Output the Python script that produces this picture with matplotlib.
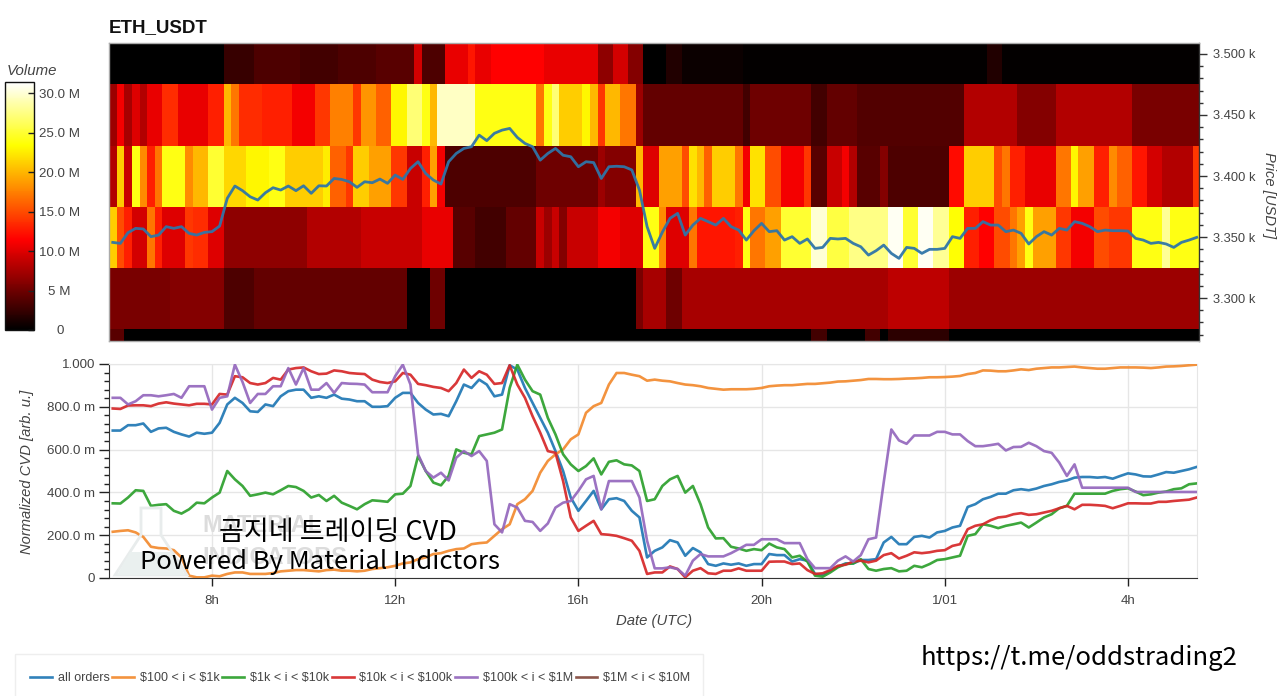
import numpy as np
import matplotlib
matplotlib.use("Agg")
import matplotlib.pyplot as plt
from matplotlib.colors import LinearSegmentedColormap
from matplotlib.patches import Polygon, Rectangle
from matplotlib.transforms import Affine2D

plt.rcParams['font.family'] = ['Liberation Sans', 'Noto Sans CJK KR', 'DejaVu Sans']

W, H = 1280, 696

# ---------- data ----------
price_edges = [3225, 3275, 3325, 3375, 3425, 3475, 3525]
vol_bottom = [4]*2 + [0.1]*90 + [3]*2 + [0.1]*5 + [3]*2 + [0.1] + [2]*8 + [0.1]*33
vol_3300 = ([5.5]*8 + [6]*7 + [3.5]*4 + [4.5]*20 + [0.1]*3 + [5]*2 + [0.1]*25 + [5.5] + [7.5]*3 + [5]*2
            + [7.5]*27 + [8.5]*8 + [7]*33)
vol_3350 = ([21, 15, 13] + [9.5]*2 + [17, 13] + [10]*3 + [14] + [13.5]*2 + [10]*2 + [6.5]*11 + [8]*7 + [9]*8
            + [10.5]*4 + [4]*3 + [3]*4 + [4.5]*4 + [9, 7, 9, 6] + [9]*4 + [11]*3 + [10]*3 + [24]*2 + [18] + [10]*3
            + [17] + [12.5]*5 + [13] + [24] + [17]*2 + [19]*2 + [25]*4 + [30]*2 + [25.5]*3 + [27.5]*5 + [31]*2
            + [25]*2 + [31]*2 + [28]*2 + [23.5]*2 + [13]*2 + [11.5]*2 + [15]*2 + [17] + [19] + [24] + [19]*3
            + [14]*2 + [11]*3 + [15]*2 + [14]*3 + [24]*4 + [28] + [24]*4)
vol_3400 = ([8, 21, 9, 24, 18, 13, 17] + [24]*3 + [18] + [20]*2 + [25]*2 + [21.5]*3 + [23]*3 + [24]*2 + [21]*5
            + [22.5] + [16]*2 + [14] + [21]*2 + [19]*3 + [14]*2 + [9]*2 + [13] + [19] + [11] + [3.5]*12 + [5]*8
            + [7] + [6]*4 + [20] + [10]*2 + [19]*3 + [15] + [22] + [20] + [16] + [21]*3 + [17] + [11] + [22]*2
            + [15]*2 + [11]*3 + [14] + [4]*2 + [9]*2 + [11] + [8] + [4]*3 + [6] + [3.5]*8 + [12]*2 + [21]*4 + [15]
            + [17] + [13]*2 + [10.5]*4 + [17]*2 + [23] + [19]*2 + [13]*2 + [18] + [16]*2 + [12.5]*2 + [9.5]*2
            + [8]*4 + [14])
vol_3450 = ([7, 11, 7.5, 10, 8] + [10.5]*2 + [13.5]*2 + [10.5]*4 + [13]*2 + [20] + [17] + [13.5]*3 + [13]*4
            + [11]*3 + [14]*2 + [17.5]*3 + [14] + [18.5]*2 + [16]*2 + [23]*2 + [27]*2 + [24] + [20] + [29.5]*5
            + [24]*8 + [17] + [24] + [27] + [21]*3 + [23] + [20] + [14] + [20]*2 + [17]*2 + [7] + [4.5]*13 + [3]
            + [5]*8 + [3]*2 + [4.5]*4 + [3.8]*14 + [8]*7 + [6]*5 + [8]*10 + [5.5]*9)
vol_3500 = ([0.1]*15 + [2.5]*4 + [3.5]*6 + [3]*5 + [3.5]*5 + [4]*5 + [9.5] + [3.5]*3 + [10.5]*3 + [12.5]
            + [10.5]*2 + [11.5]*7 + [10.5]*7 + [6.5]*2 + [9.5]*2 + [6]*2 + [0.1]*3 + [1.5]*2 + [0.5]*8 + [0.2]*32
            + [1.5]*2 + [0.2]*26)

price = [3345.6, 3344.8, 3353.6, 3357.1, 3356.6, 3350.3, 3351.6, 3358.5, 3357.1, 3358.5, 3353, 3351.6, 3353.8,
         3354.4, 3359, 3381.7, 3391.8, 3388, 3383, 3380.3, 3386.3, 3390.4, 3388.5, 3391.8, 3388, 3392, 3385.8,
         3392, 3391.8, 3398, 3397.2, 3395.3, 3390.7, 3395.3, 3394.5, 3397.5, 3394, 3400.8, 3397.2, 3406.2,
         3411.7, 3402, 3396.7, 3393.4, 3411.7, 3418.5, 3422.6, 3424, 3433.5, 3429, 3435, 3437.6, 3439, 3431.6,
         3426.7, 3424, 3413, 3418.5, 3422.6, 3417, 3415.8, 3407.6, 3411.7, 3411, 3398, 3407.6, 3408, 3407.6,
         3405, 3388.5, 3358.5, 3340.7, 3354, 3365.3, 3369.4, 3351.6, 3359.8, 3365.3, 3362.6, 3359.8, 3365.3,
         3358.5, 3355.7, 3347.5, 3355.2, 3361.2, 3354.4, 3355.2, 3347.5, 3350.3, 3344.8, 3348.4, 3340.7,
         3341.5, 3348.9, 3348.4, 3348.9, 3344.8, 3342, 3335.2, 3338.8, 3343.4, 3336.6, 3332.5, 3341.5, 3340.7,
         3336.6, 3339.9, 3339.9, 3340.7, 3350.3, 3348.9, 3357.1, 3357.1, 3362.6, 3359.8, 3359.8, 3354.4,
         3355.7, 3353, 3344.3, 3350.3, 3354.4, 3351.6, 3357.1, 3355.7, 3362.6, 3361.2, 3358.5, 3354.4, 3355.7,
         3355.2, 3355.2, 3354.9, 3348.9, 3347.5, 3344.8, 3345.6, 3344.3, 3341.5, 3345.6, 3347.5, 3349.7]

cvd_all = [.689, .689, .714, .714, .722, .683, .699, .702, .683, .671, .661, .679, .674, .679, .725, .811, .842,
           .818, .779, .776, .811, .803, .849, .873, .880, .880, .842, .849, .842, .857, .838, .834, .826, .826,
           .800, .800, .803, .842, .865, .865, .818, .787, .764, .767, .756, .826, .904, .888, .927, .904, .849,
           .857, .994, .974, .888, .818, .748, .679, .593, .500, .376, .314, .360, .407, .321, .368, .373, .360,
           .314, .283, .096, .127,
           .143, .177, .166, .104, .140, .120, .065, .057, .068, .062, .068, .057, .065, .065, .112, .107, .107,
           .077, .088, .081, .019, .015, .034, .053, .068, .068, .084, .084, .088, .166, .192, .158, .158, .192,
           .197, .189, .213, .220, .236, .244, .332, .345, .368, .379, .394, .394, .410, .415, .410, .418, .430,
           .438, .449, .456, .469, .472, .472, .469, .472, .464, .477, .489, .484, .475, .474, .484, .495, .492,
           .500, .508, .519]
cvd_100_1k = [.216, .220, .223, .213, .192, .146, .140, .138, .130, .096, .011, .003, .003, .011, .008, .019, .026,
              .026, .019, .019, .019, .023, .031, .034, .037, .037, .034, .031, .037, .039, .034, .034, .031, .034,
              .042, .046, .050, .057, .068, .073, .088, .096, .112, .116, .127, .135, .138, .158, .163, .166, .197,
              .228, .251, .345, .368, .407, .492, .547, .578, .601, .648, .671, .772, .803, .818, .904, .958, .958,
              .950, .943, .922, .927,
              .922, .919, .911, .904, .901, .896, .888, .884, .880, .882, .882, .882, .884, .888, .896, .899, .901,
              .901, .904, .907, .907, .910, .913, .918, .919, .922, .925, .930, .930, .929, .929, .930, .932, .933,
              .935, .938, .938, .939, .941, .944, .953, .958, .970, .969, .966, .966, .970, .975, .972, .978, .981,
              .984, .984, .986, .988, .984, .981, .978, .978, .981, .984, .984, .984, .983, .981, .984, .988, .989,
              .991, .994, .997]
cvd_1k_10k = [.349, .348, .376, .410, .407, .337, .342, .345, .314, .301, .321, .352, .349, .376, .399, .500, .461,
              .430, .384, .391, .399, .391, .410, .430, .425, .407, .376, .388, .360, .384, .352, .337, .321, .345,
              .363, .360, .356, .391, .394, .430, .570, .500, .446, .433, .477, .601, .585, .578, .663, .671, .679,
              .694, .888, .997, .927, .873, .857, .748, .671, .578, .531, .500, .523, .559, .484, .543, .550, .531,
              .526, .500, .360, .368,
              .430, .461, .477, .399, .430, .345, .236, .185, .186, .146, .138, .127, .135, .130, .161, .143, .135,
              .096, .104, .077, .011, .006, .026, .050, .065, .068, .088, .042, .034, .042, .046, .031, .034, .057,
              .050, .065, .084, .088, .096, .104, .197, .205, .251, .244, .233, .244, .251, .259, .236, .259, .283,
              .298, .326, .337, .394, .394, .394, .394, .394, .407, .415, .419, .404, .387, .391, .399, .404, .415,
              .419, .438, .442]
cvd_10k_100k = [.792, .790, .806, .807, .807, .803, .815, .821, .815, .811, .807, .814, .814, .811, .860, .857, .943,
                .938, .911, .904, .911, .935, .927, .974, .981, .984, .966, .953, .955, .970, .966, .958, .955, .953,
                .927, .916, .911, .919, .958, .950, .907, .901, .893, .888, .873, .911, .974, .935, .966, .950, .907,
                .911, .994, .904, .842, .756, .679, .593, .585, .453, .283, .220, .244, .267, .205, .202, .197, .186,
                .174, .127, .019, .026,
                .026, .054, .042, .003, .034, .046, .022, .019, .034, .034, .045, .034, .034, .034, .076, .077, .077,
                .065, .068, .037, .019, .022, .037, .057, .062, .077, .081, .073, .081, .107, .116, .091, .104, .120,
                .116, .120, .127, .130, .150, .158, .228, .244, .251, .270, .283, .287, .298, .303, .295, .298, .306,
                .314, .326, .337, .321, .342, .342, .340, .337, .326, .337, .349, .349, .348, .348, .356, .356, .360,
                .363, .366, .376]
cvd_100k_1m = [.842, .842, .811, .826, .854, .854, .849, .854, .860, .842, .896, .896, .896, .787, .842, .849, .997,
               .916, .818, .860, .860, .896, .896, .981, .904, .981, .880, .880, .911, .865, .911, .908, .907, .904,
               .868, .868, .868, .943, .997, .904, .578, .500, .469, .492, .456, .562, .593, .570, .593, .547, .251,
               .213, .345, .329, .267, .262, .220, .255, .329, .352, .360, .407, .461, .477, .321, .453, .453, .453,
               .453, .376, .174, .045,
               .045, .050, .042, .011, .081, .112, .101, .101, .101, .116, .135, .155, .155, .181, .181, .181, .163,
               .163, .163, .088, .046, .046, .046, .081, .101, .077, .107, .181, .189, .446, .694, .643, .627, .666,
               .666, .666, .683, .683, .671, .671, .640, .616, .616, .621, .627, .596, .612, .613, .632, .616, .593,
               .585, .539, .477, .531, .422, .422, .422, .422, .422, .422, .422, .402, .402, .402, .402, .402, .402,
               .402, .402, .402]

series_labels = ['all orders', r'\$100 < i < \$1k', r'\$1k < i < \$10k', r'\$10k < i < \$100k',
                 r'\$100k < i < \$1M', r'\$1M < i < \$10M']
series_colors = ['#1f77b4', '#f28a2e', '#2ca02c', '#d62728', '#9467bd', '#8c564b']
price_ticks = [3300, 3350, 3400, 3450, 3500]
price_labels = ['3.300 k', '3.350 k', '3.400 k', '3.450 k', '3.500 k']
vol_ticks = [0, 5, 10, 15, 20, 25, 30]
vol_labels = ['0', '5 M', '10.0 M', '15.0 M', '20.0 M', '25.0 M', '30.0 M']
cvd_ticks = [0, .2, .4, .6, .8, 1.0]
cvd_labels = ['0', '200.0 m', '400.0 m', '600.0 m', '800.0 m', '1.000']
hour_ticks = [8, 12, 16, 20, 24, 28]
hour_labels = ['8h', '12h', '16h', '20h', '1/01', '4h']

BIN_START = 5.751
LINE_START = 5.833
STEP = 1 / 6
TICK = '#444444'


def rect(l, t, r, b):
    return [l / W, 1 - b / H, (r - l) / W, (b - t) / H]


hot_black = LinearSegmentedColormap.from_list(
    'hot_black', [(0, '#000000'), (0.365, '#ff0000'), (0.746, '#ffff00'), (1, '#ffffff')], N=256)

fig = plt.figure(figsize=(W / 100, H / 100), dpi=100, facecolor='white')

# ---------- heat map ----------
ax = fig.add_axes(rect(109, 43, 1199, 341))
grid = np.array([vol_bottom, vol_3300, vol_3350, vol_3400, vol_3450, vol_3500], dtype=float)
t_edges = BIN_START + np.arange(grid.shape[1] + 1) * STEP
mesh = ax.pcolormesh(t_edges, price_edges, grid, cmap=hot_black, vmin=0, vmax=31.4, shading='flat', rasterized=True)
ax.plot(LINE_START + np.arange(len(price)) * STEP, price, color='#2f75a8', lw=2.0, alpha=0.95)
ax.set_xlim(BIN_START, 29.55)
ax.set_ylim(3264.8, 3509)
ax.set_xticks([])
ax.yaxis.tick_right()
ax.set_yticks(price_ticks)
ax.set_yticklabels(price_labels, fontsize=9.3, color=TICK)
ax.set_yticks(np.arange(3270, 3510, 10), minor=True)
ax.tick_params(axis='y', which='major', length=6, width=1, color='#333333', pad=4)
ax.tick_params(axis='y', which='minor', length=3, width=1, color='#333333')
for s in ax.spines.values():
    s.set_color('#aaaaaa')
    s.set_linewidth(1)
ax.spines['right'].set_color('#333333')
fig.text(109 / W, 1 - 27.5 / H, 'ETH_USDT', fontsize=13.5, fontweight='bold', color='#111111', va='center', ha='left')
fig.text(1269 / W, 1 - 195 / H, 'Price [USDT]', fontsize=10.6, style='italic', color=TICK, rotation=270, va='center', ha='center')

# ---------- colour bar ----------
cax = fig.add_axes(rect(5, 82, 34, 330))
cb = fig.colorbar(mesh, cax=cax)
cb.set_ticks(vol_ticks)
cb.set_ticklabels(vol_labels, fontsize=9.6, color=TICK)
cb.ax.tick_params(length=4, width=1, color='#222222', direction='in', pad=18.5)
cb.outline.set_edgecolor('#111111')
cb.outline.set_linewidth(1)
for tk in cax.yaxis.get_major_ticks():
    tk.label2.set_horizontalalignment('center')
fig.text(7 / W, 1 - 71 / H, 'Volume', fontsize=10.8, style='italic', color=TICK, va='center', ha='left')

# ---------- CVD lines ----------
ax2 = fig.add_axes(rect(109, 364, 1197, 578))
all_series = [cvd_all, cvd_100_1k, cvd_1k_10k, cvd_10k_100k, cvd_100k_1m]
for vals, col, lab in zip(all_series, series_colors, series_labels):
    ax2.plot(LINE_START + np.arange(len(vals)) * STEP, vals, color=col, lw=1.9, alpha=0.92, label=lab, zorder=3)
ax2.plot([], [], color=series_colors[5], lw=1.9, label=series_labels[5])
ax2.set_xlim(BIN_START, 29.507)
ax2.set_ylim(0, 1)
ax2.set_xticks(hour_ticks)
ax2.set_xticklabels(hour_labels, fontsize=9.6, color=TICK)
ax2.set_yticks(cvd_ticks)
ax2.set_yticklabels(cvd_labels, fontsize=9.6, color=TICK)
ax2.set_yticks(np.arange(0, 1.001, .04), minor=True)
ax2.grid(True, which='major', color='#e6e6e6', lw=1)
ax2.set_axisbelow(True)
ax2.tick_params(axis='x', which='major', length=6, width=1, color='#222222', pad=6)
ax2.tick_params(axis='y', which='major', length=7, width=1, color='#222222', pad=3)
ax2.tick_params(axis='y', which='minor', length=3.5, width=1, color='#222222')
for side in ['top', 'right']:
    ax2.spines[side].set_color('#e6e6e6')
for side in ['left', 'bottom']:
    ax2.spines[side].set_color('#333333')
fig.text(654 / W, 1 - 621 / H, 'Date (UTC)', fontsize=10.7, style='italic', color=TICK, va='center', ha='center')
fig.text(27 / W, 1 - 472 / H, 'Normalized CVD [arb. u.]', fontsize=10.6, style='italic', color=TICK, rotation=90, va='center', ha='center')

# ---------- faded watermark ----------
pix = Affine2D().scale(1 / W, 1 / H) + fig.transFigure
def flip(pts):
    return [(x, H - y) for x, y in pts]
fig.add_artist(Polygon(flip([(141, 508), (161, 508), (161, 535), (187, 575), (115, 575), (141, 535)]),
                       closed=True, fc='none', ec='#e8ecec', lw=2, transform=pix, zorder=1))
fig.add_artist(Polygon(flip([(130, 552), (172, 552), (185, 575), (117, 575)]),
                       closed=True, fc='#eaf0ef', ec='none', transform=pix, zorder=1))
fig.text(202 / W, 1 - 526 / H, 'MATERIAL', fontsize=17, fontweight='bold', color='#dcdcdc', va='center', ha='left', zorder=1)
fig.text(202 / W, 1 - 558 / H, 'INDICATORS', fontsize=17, fontweight='bold', color='#dcdcdc', va='center', ha='left', zorder=1)

# ---------- overlay captions ----------
CJK = ['Noto Sans CJK KR', 'DejaVu Sans']
fig.text(338 / W, 1 - 532 / H, '곰지네 트레이딩 CVD', fontsize=19.5, family=CJK, color='black', va='center', ha='center', zorder=10)
fig.text(320.5 / W, 1 - 562 / H, 'Powered By Material Indictors', fontsize=18.5, family=CJK, color='black', va='center', ha='center', zorder=10)
fig.text(1079 / W, 1 - 658 / H, 'https://t.me/oddstrading2', fontsize=18.5, family=CJK, color='black', va='center', ha='center', zorder=10)

# ---------- legend ----------
fig.add_artist(Rectangle((15, -5), 688, H - 654 + 5, transform=pix, fc='white', ec='#eeeeee', lw=1, zorder=1))
handles, labels = ax2.get_legend_handles_labels()
leg = fig.legend(handles, labels, ncol=6, frameon=False, fontsize=9.0, handlelength=1.75, handletextpad=0.45,
                 columnspacing=0.22, loc='center left', bbox_to_anchor=(19 / W, 1 - 678 / H), labelcolor=TICK)
leg.set_zorder(5)

fig.savefig('out.png', dpi=100)
